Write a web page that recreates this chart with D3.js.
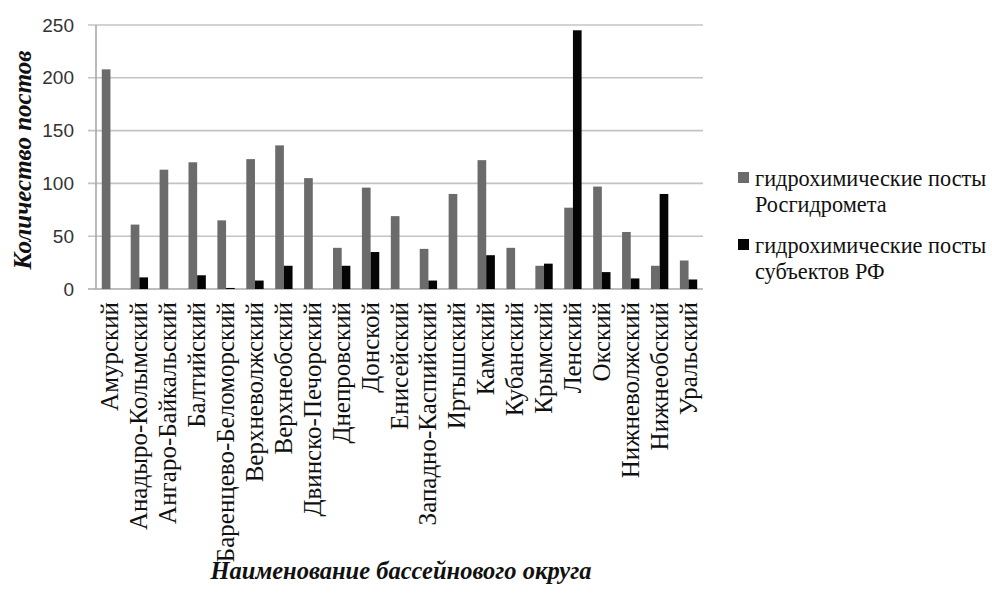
<!DOCTYPE html>
<html>
<head>
<meta charset="utf-8">
<script src="https://cdn.jsdelivr.net/npm/d3@7"></script>
<style>
  html, body { margin: 0; padding: 0; background: #fff; }
  svg { display: block; }
</style>
</head>
<body>
<svg id="chart" width="992" height="596"></svg>
<script>
// Basin districts and the number of hydrochemical posts in each
const categories = [
  "Амурский", "Анадыро-Колымский", "Ангаро-Байкальский", "Балтийский",
  "Баренцево-Беломорский", "Верхневолжский", "Верхнеобский", "Двинско-Печорский",
  "Днепровский", "Донской", "Енисейский", "Западно-Каспийский", "Иртышский",
  "Камский", "Кубанский", "Крымский", "Ленский", "Окский", "Нижневолжский",
  "Нижнеобский", "Уральский"
];
const roshydrometPosts = [208, 61, 113, 120, 65, 123, 136, 105, 39, 96, 69, 38, 90, 122, 39, 22, 77, 97, 54, 22, 27];
const regionalPosts    = [0, 11, 0, 13, 1, 8, 22, 0, 22, 35, 0, 8, 0, 32, 0, 24, 245, 16, 10, 90, 9];
const seriesNames = ["гидрохимические посты Росгидромета", "гидрохимические посты субъектов РФ"];
const seriesLines = [["гидрохимические посты", "Росгидромета"], ["гидрохимические посты", "субъектов РФ"]];
const yTicks = [0, 50, 100, 150, 200, 250];
const yTitle = "Количество постов";
const xTitle = "Наименование бассейнового округа";

const colors = ["#6b6b6b", "#050505"];
const series = [roshydrometPosts, regionalPosts];
const SERIF = "Liberation Serif";
const SANS = "Liberation Sans";

const svg = d3.select("#chart");
const plot = { left: 96, right: 703, top: 25, bottom: 289 };

const x = d3.scaleBand()
  .domain(categories)
  .range([plot.left, plot.right])
  .paddingInner(0.4)
  .paddingOuter(0.2);
const xs = d3.scaleBand().domain(d3.range(series.length)).range([0, x.bandwidth()]);
const y = d3.scaleLinear().domain([0, 250]).range([plot.bottom, plot.top]);

// horizontal gridlines with outward tick stubs
svg.append("g").selectAll("line").data(yTicks).join("line")
  .attr("x1", plot.left - 8).attr("x2", plot.right)
  .attr("y1", d => y(d)).attr("y2", d => y(d))
  .attr("stroke", d => d === 0 ? "#a8a8a8" : "#c4c4c4")
  .attr("stroke-width", 1.6);

// y axis line
svg.append("line")
  .attr("x1", plot.left).attr("x2", plot.left)
  .attr("y1", plot.top).attr("y2", plot.bottom)
  .attr("stroke", "#a8a8a8").attr("stroke-width", 1.6);

// y tick labels
const yAxis = d3.axisLeft(y).tickValues(yTicks).tickSize(0).tickPadding(22);
const yg = svg.append("g").attr("transform", `translate(${plot.left},0)`).call(yAxis);
yg.select(".domain").remove();
yg.attr("font-family", null).attr("font-size", null);
yg.selectAll("text")
  .style("font-family", SANS)
  .style("font-size", "19px")
  .attr("fill", "#333");

// bars
const groups = svg.append("g").selectAll("g").data(categories).join("g")
  .attr("transform", d => `translate(${x(d)},0)`);
groups.selectAll("rect")
  .data((d, i) => series.map((s, k) => ({ k, v: s[i] })))
  .join("rect")
  .attr("x", d => xs(d.k))
  .attr("width", xs.bandwidth())
  .attr("y", d => y(d.v))
  .attr("height", d => y(0) - y(d.v))
  .attr("fill", d => colors[d.k]);

// category labels, rotated
svg.append("g").selectAll("text").data(categories).join("text")
  .attr("transform", d => `translate(${x(d) + x.bandwidth() / 2 + 8},302) rotate(-90)`)
  .attr("text-anchor", "end")
  .style("font-family", SERIF)
  .style("font-size", "25px")
  .attr("fill", "#111")
  .text(d => d);

// axis titles
svg.append("text")
  .attr("transform", "translate(31,160) rotate(-90)")
  .attr("text-anchor", "middle")
  .style("font-family", SERIF)
  .style("font-size", "25px").style("font-weight", "bold").style("font-style", "italic")
  .attr("fill", "#111")
  .text(yTitle);

svg.append("text")
  .attr("x", 401).attr("y", 579)
  .attr("text-anchor", "middle")
  .style("font-family", SERIF)
  .style("font-size", "24.5px").style("font-weight", "bold").style("font-style", "italic")
  .attr("fill", "#111")
  .text(xTitle);

// legend
const legend = svg.append("g").selectAll("g").data(seriesNames).join("g")
  .attr("transform", (d, i) => `translate(738,${172 + i * 67})`);
legend.append("rect")
  .attr("width", 11).attr("height", 11)
  .attr("fill", (d, i) => colors[i]);
legend.append("text")
  .style("font-family", SERIF)
  .style("font-size", "22.3px")
  .attr("fill", "#111")
  .selectAll("tspan").data((d, i) => seriesLines[i]).join("tspan")
  .attr("x", 17).attr("y", (d, j) => 14 + j * 26)
  .text(d => d);
</script>
</body>
</html>
